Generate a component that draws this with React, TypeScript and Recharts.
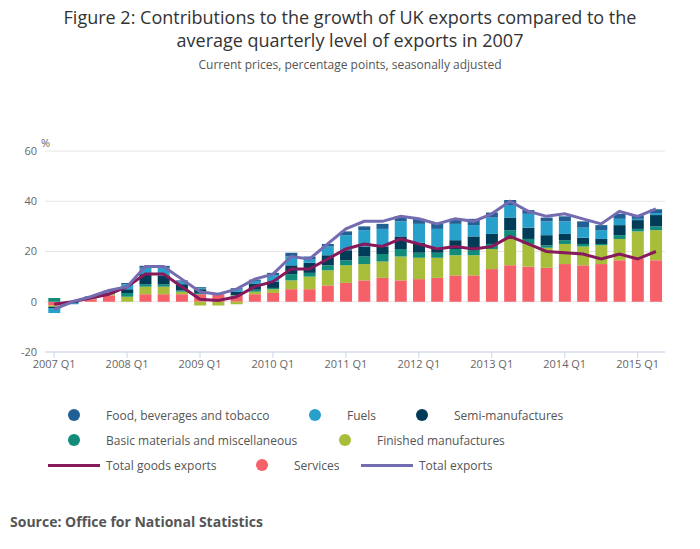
import React from 'react';
import { ComposedChart, Bar, Line, XAxis, YAxis, CartesianGrid } from 'recharts';

const years = [2007, 2008, 2009, 2010, 2011, 2012, 2013, 2014, 2015];
const quarters = years.flatMap(y => [1, 2, 3, 4].map(q => `${y} Q${q}`)).slice(0, 34);
const tickLabels = years.map(y => `${y} Q1`);

const services = [-1.5, 0, 1, 2.5, 0, 3, 3, 3, 3, 3, 2.5, 3, 3.5, 5, 5, 6.5, 7.5, 8.5, 9.5, 8.5, 9, 9.5, 10.5, 10.5, 13, 14.5, 14, 13.5, 15, 14.5, 15, 16.5, 17, 16.5];
const finished = [-0.5, 0, 0.3, 0.5, 2, 3, 3, 1, -1.5, -1.5, -1, 1, 1.5, 3.5, 5, 6, 7, 6.5, 6.5, 9.5, 8.5, 8, 8, 8, 8, 11, 9, 8, 8, 7.5, 7.5, 8.5, 11, 12];
const basic = [1.5, 0, 0.2, 0.3, 1.5, 1, 1, 0.5, 0.5, 0, 0.2, 0.8, 0.5, 2.5, 1.5, 2, 2, 3, 3, 3, 2, 2, 2.5, 2.5, 2, 3, 2, 1, 1.5, 1, 0.5, 1.5, 1, 1.5];
const semi = [-0.5, -0.5, 0.3, 0.3, 1.5, 4, 3.5, 2.5, 1.5, 0, 1.2, 2.5, 2.5, 3.5, 4, 4, 4, 4, 3, 5, 4, 2, 3.5, 5, 4, 5, 4.5, 4, 2.5, 2.5, 2, 4, 3.5, 4.5];
const fuels = [-2, -0.5, 0.2, 0.5, 2, 2.5, 3, 1, 0.3, 0, 1, 1, 2.5, 3.5, 1.5, 3.5, 6, 6.5, 7, 6, 7.5, 7.5, 6.5, 4.5, 6.5, 5, 5.5, 5.5, 5, 4, 3.5, 2.5, 0.5, 0.8];
const food = [0, 0, 0.2, 0.3, 0.5, 0.8, 0.8, 0.5, 0.5, 0, 0.5, 0.5, 1, 1.5, 1, 1, 1.5, 1.5, 2, 2, 2, 2, 2, 2.5, 2, 2, 1.5, 1.5, 2, 2.5, 2, 2, 1.5, 1.5];
const totalGoods = [-1, 0, 1.5, 3, 6, 11, 11, 6, 1, 0.5, 2, 6, 8, 13, 13, 17, 21, 23, 22, 25, 23, 21, 22, 21, 22, 26, 23, 20, 19.5, 19, 17, 19, 17, 20];
const totalExports = [-3, 0, 2, 4.5, 6, 14, 14, 9, 4, 3, 5, 9, 11, 18, 17, 23, 29, 32, 32, 34, 33, 31, 33, 32, 35, 40, 36, 34, 35, 33, 31, 36, 34, 37];

const data = quarters.map((q, i) => ({
  q, services: services[i], finished: finished[i], basic: basic[i], semi: semi[i],
  fuels: fuels[i], food: food[i], goods: totalGoods[i], total: totalExports[i],
}));

const C = {
  food: '#206095', fuels: '#27a0cc', semi: '#003c57', basic: '#118c7b',
  finished: '#a8bd3a', services: '#f66068', goods: '#871a5b', total: '#746cb1',
};

const font = '"Open Sans", sans-serif';

const Item = ({ color, label, x, y, line }: { color: string; label: string; x: number; y: number; line?: boolean }) => (
  <div style={{ position: 'absolute', left: x, top: y - 9, height: 18, display: 'flex', alignItems: 'center', whiteSpace: 'nowrap', fontSize: 12, color: '#555' }}>
    {line
      ? <span style={{ width: 52, height: 3, background: color, marginRight: 6 }} />
      : <span style={{ width: 12, height: 12, borderRadius: 6, background: color, marginLeft: 20, marginRight: 26 }} />}
    <span>{label}</span>
  </div>
);

export default function App() {
  return (
    <div style={{ position: 'relative', width: 700, height: 549, margin: -8, fontFamily: font, background: '#fff' }}>
      <div style={{ position: 'absolute', top: 6, width: 700, textAlign: 'center', fontSize: 18, color: '#333', lineHeight: '23px' }}>
        Figure 2: Contributions to the growth of UK exports compared to the<br />average quarterly level of exports in 2007
      </div>
      <div style={{ position: 'absolute', top: 56, width: 700, textAlign: 'center', fontSize: 12, color: '#555' }}>
        Current prices, percentage points, seasonally adjusted
      </div>
      <div style={{ position: 'absolute', top: 135, left: 41, fontSize: 11, color: '#666' }}>%</div>
      <div style={{ position: 'absolute', top: 130, left: 0 }}>
        <ComposedChart width={700} height={260} data={data} stackOffset="sign" barCategoryGap="18%"
          margin={{ top: 21, right: 35, bottom: 8, left: 10 }}>
          <CartesianGrid vertical={false} stroke="#e6e6e6" />
          <XAxis dataKey="q" ticks={tickLabels} interval={0} tick={{ fontSize: 11, fill: '#666' }}
            stroke="#ccd6eb" tickLine={{ stroke: '#ccd6eb' }} height={30} />
          <YAxis domain={[-20, 60]} ticks={[-20, 0, 20, 40, 60]} width={35} axisLine={false} tickLine={false}
            tick={{ fontSize: 11, fill: '#666' }} />
          <Bar dataKey="services" stackId="a" fill={C.services} isAnimationActive={false} />
          <Bar dataKey="finished" stackId="a" fill={C.finished} isAnimationActive={false} />
          <Bar dataKey="basic" stackId="a" fill={C.basic} isAnimationActive={false} />
          <Bar dataKey="semi" stackId="a" fill={C.semi} isAnimationActive={false} />
          <Bar dataKey="fuels" stackId="a" fill={C.fuels} isAnimationActive={false} />
          <Bar dataKey="food" stackId="a" fill={C.food} isAnimationActive={false} />
          <Line dataKey="goods" stroke={C.goods} strokeWidth={3} dot={false} isAnimationActive={false} />
          <Line dataKey="total" stroke={C.total} strokeWidth={3} dot={false} isAnimationActive={false} />
        </ComposedChart>
      </div>
      <Item color={C.food} label="Food, beverages and tobacco" x={48} y={415} />
      <Item color={C.fuels} label="Fuels" x={289} y={415} />
      <Item color={C.semi} label="Semi-manufactures" x={396} y={415} />
      <Item color={C.basic} label="Basic materials and miscellaneous" x={48} y={440} />
      <Item color={C.finished} label="Finished manufactures" x={319} y={440} />
      <Item color={C.goods} label="Total goods exports" x={48} y={465} line />
      <Item color={C.services} label="Services" x={236} y={465} />
      <Item color={C.total} label="Total exports" x={361} y={465} line />
      <div style={{ position: 'absolute', top: 512, left: 10, fontSize: 14, fontWeight: 700, color: '#555' }}>
        Source: Office for National Statistics
      </div>
    </div>
  );
}
